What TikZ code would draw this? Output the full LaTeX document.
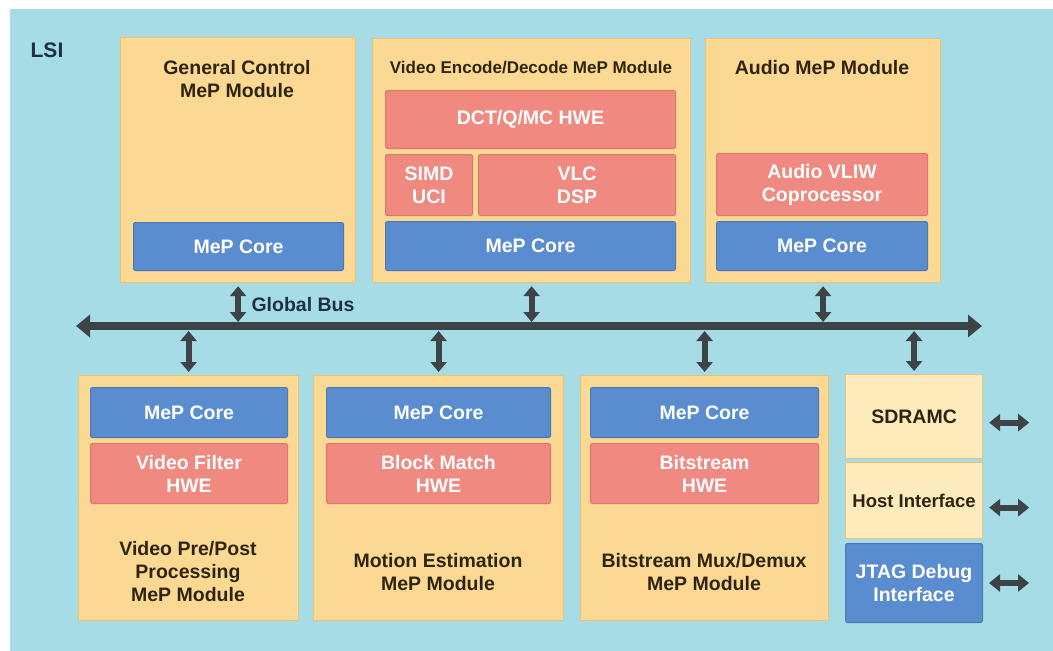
\documentclass[tikz,border=0pt]{standalone}
\usepackage{fontspec}
\setmainfont{Liberation Sans}
\usetikzlibrary{arrows.meta}
\definecolor{lsiblue}{HTML}{A6DCE5}
\definecolor{modfill}{HTML}{FCD992}
\definecolor{modedge}{HTML}{E9C27A}
\definecolor{memfill}{HTML}{FDEBBC}
\definecolor{corefill}{HTML}{5A8DCF}
\definecolor{coreedge}{HTML}{4A78B4}
\definecolor{hwefill}{HTML}{F08A81}
\definecolor{hweedge}{HTML}{DD766E}
\definecolor{titletext}{HTML}{2E2412}
\definecolor{navytext}{HTML}{1D3042}
\definecolor{busgray}{HTML}{3E4347}
\newcommand\boxfont{\fontsize{19.5}{23}\selectfont\bfseries}

\begin{document}
\begin{tikzpicture}[x=1pt,y=-1pt,
  module/.style={draw=modedge, fill=modfill, line width=1.2pt, anchor=north west, inner sep=0pt},
  memory/.style={module, fill=memfill},
  core/.style={fill=corefill, draw=coreedge, line width=1pt, rounded corners=2pt, anchor=north west, inner sep=0pt, text=white, align=center, font=\boxfont},
  hwe/.style={core, fill=hwefill, draw=hweedge},
  title/.style={text=titletext, align=center, font=\boxfont},
  busarrow/.style={draw=busgray, line width=6pt, {Triangle[length=10pt,width=16pt]}-{Triangle[length=10pt,width=16pt]}},
  sidearrow/.style={draw=busgray, line width=6pt, {Triangle[length=11pt,width=17pt]}-{Triangle[length=11pt,width=17pt]}},
  ]
\useasboundingbox (0,0) rectangle (1053,651);
\fill[white] (0,0) rectangle (1053,651);
\fill[lsiblue] (10,9) rectangle (1053,651);
\node[text=navytext, font=\fontsize{21}{24}\selectfont\bfseries] (lsi) at (47,50) {LSI};

% upper modules
\node[module, minimum width=235pt, minimum height=245pt] (gc) at (120,37) {};
\node[title] (gct) at (237,79) {General Control\\MeP Module};
\node[core, minimum width=210pt, minimum height=48pt] (gccore) at (133,222) {MeP Core};

\node[module, minimum width=318pt, minimum height=244pt] (ve) at (372,38) {};
\node[title, font=\fontsize{17}{20}\selectfont\bfseries] (vet) at (531,68) {Video Encode/Decode MeP Module};
\node[hwe, minimum width=290pt, minimum height=58pt] (dct) at (385,90) {DCT/Q/MC HWE};
\node[hwe, minimum width=87pt, minimum height=61pt] (simd) at (385,154) {SIMD\\UCI};
\node[hwe, minimum width=197pt, minimum height=61pt] (vlc) at (478,154) {VLC\\DSP};
\node[core, minimum width=290pt, minimum height=49pt] (vecore) at (385,221) {MeP Core};

\node[module, minimum width=235pt, minimum height=244pt] (au) at (705,38) {};
\node[title] (aut) at (822,68) {Audio MeP Module};
\node[hwe, minimum width=211pt, minimum height=62pt] (vliw) at (716,153) {Audio VLIW\\Coprocessor};
\node[core, minimum width=211pt, minimum height=49pt] (aucore) at (716,221) {MeP Core};

% lower modules
\node[module, minimum width=220pt, minimum height=245pt] (vpp) at (78,375) {};
\node[core, minimum width=197pt, minimum height=50pt] (vppcore) at (90,387) {MeP Core};
\node[hwe, minimum width=197pt, minimum height=60pt] (vpphwe) at (90,443) {Video Filter\\HWE};
\node[title] (vppt) at (188,572) {Video Pre/Post\\Processing\\MeP Module};

\node[module, minimum width=250pt, minimum height=245pt] (me) at (313,375) {};
\node[core, minimum width=224pt, minimum height=50pt] (mecore) at (326,387) {MeP Core};
\node[hwe, minimum width=224pt, minimum height=60pt] (mehwe) at (326,443) {Block Match\\HWE};
\node[title] (met) at (438,572) {Motion Estimation\\MeP Module};

\node[module, minimum width=248pt, minimum height=245pt] (bs) at (580,375) {};
\node[core, minimum width=228pt, minimum height=50pt] (bscore) at (590,387) {MeP Core};
\node[hwe, minimum width=228pt, minimum height=60pt] (bshwe) at (590,443) {Bitstream\\HWE};
\node[title] (bst) at (704,572) {Bitstream Mux/Demux\\MeP Module};

\node[memory, minimum width=137pt, minimum height=84pt, font=\boxfont, text=titletext] (sd) at (845,374) {SDRAMC};
\node[memory, minimum width=137pt, minimum height=76pt, font=\fontsize{18.5}{22}\selectfont\bfseries, text=titletext] (host) at (845,462) {Host Interface};
\node[core, minimum width=137pt, minimum height=79pt] (jtag) at (845,543) {JTAG Debug\\Interface};

% global bus
\coordinate (busL) at (76,326);
\coordinate (busR) at (982,326);
\coordinate (busN) at (0,322);
\coordinate (busS) at (0,331);
\draw[draw=busgray, line width=8pt, {Triangle[length=14pt,width=22pt]}-{Triangle[length=14pt,width=22pt]}] (busL) -- (busR);
\node[text=navytext, font=\boxfont, anchor=west] (gbus) at (248,305) {Global Bus};

\draw[busarrow] ([yshift=-3pt]gc.south) -- (gc.south |- busN);
\draw[busarrow] ([yshift=-3pt]ve.south) -- (ve.south |- busN);
\draw[busarrow] ([yshift=-3pt]au.south) -- (au.south |- busN);
\draw[busarrow] (vpp.north |- busS) -- ([yshift=3pt]vpp.north);
\draw[busarrow] (me.north |- busS) -- ([yshift=3pt]me.north);
\draw[busarrow] (bs.north |- busS) -- ([yshift=3pt]bs.north);
\draw[busarrow] (sd.north |- busS) -- ([yshift=3pt]sd.north);

% external ports
\draw[sidearrow] ([xshift=6pt,yshift=-6pt]sd.east) -- ++(40,0);
\draw[sidearrow] ([xshift=6pt,yshift=-7pt]host.east) -- ++(40,0);
\draw[sidearrow] ([xshift=6pt]jtag.east) -- ++(40,0);
\end{tikzpicture}
\end{document}
